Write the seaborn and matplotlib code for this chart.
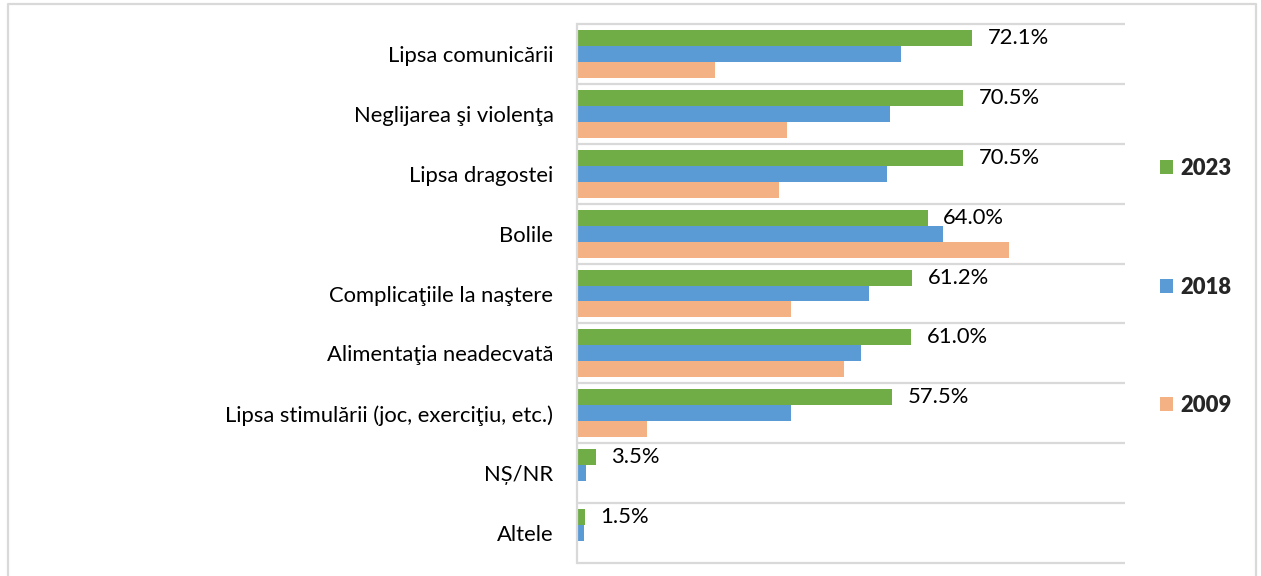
import pandas as pd
import matplotlib.pyplot as plt
import seaborn as sns
from matplotlib.patches import Patch

# Data
categories = [
    "Lipsa comunicării",
    "Neglijarea şi violenţa",
    "Lipsa dragostei",
    "Bolile",
    "Complicaţiile la naştere",
    "Alimentaţia neadecvată",
    "Lipsa stimulării (joc, exerciţiu, etc.)",
    "NȘ/NR",
    "Altele",
]
years = ["2023", "2018", "2009"]
values_2023 = [72.1, 70.5, 70.5, 64.0, 61.2, 61.0, 57.5, 3.5, 1.5]
values_2018 = [59.1, 57.2, 56.6, 66.7, 53.3, 51.9, 39.0, 1.6, 1.2]
values_2009 = [25.1, 38.4, 36.8, 78.9, 39.1, 48.8, 12.7, None, None]
colors = ["#70AD47", "#5B9BD5", "#F4B183"]

df = pd.DataFrame({
    "category": categories * 3,
    "year": [y for y in years for _ in categories],
    "value": values_2023 + values_2018 + values_2009,
})
df["value"] = pd.to_numeric(df["value"])

sns.set_theme(style="white")
plt.rcParams["font.family"] = ["Lato", "DejaVu Sans"]

fig = plt.figure(figsize=(12.61, 5.76), dpi=100)
ax = fig.add_axes([577 / 1261, 13 / 576, 548 / 1261, 539 / 576])

sns.barplot(
    data=df, y="category", x="value", hue="year",
    hue_order=years, palette=colors, saturation=1, orient="h",
    width=0.8, linewidth=0, ax=ax, legend=False,
)

ax.set_xlim(0, 100)
ax.set_ylim(len(categories) - 0.5, -0.5)
ax.set_xlabel("")
ax.set_ylabel("")
ax.set_xticks([])
ax.tick_params(axis="y", length=0, pad=17, labelsize=15.8, labelcolor="#000000")

# boundary lines between categories
ax.hlines([i - 0.5 for i in range(len(categories) + 1)], 0, 100,
          color="#d9d9d9", linewidth=1.6, clip_on=False, zorder=0)

for side in ["top", "right", "bottom"]:
    ax.spines[side].set_visible(False)
ax.spines["left"].set_color("#d9d9d9")
ax.spines["left"].set_linewidth(1.6)

# value labels on the 2023 bars only
ax.bar_label(ax.containers[0], fmt="%.1f%%", padding=11, fontsize=15.8, color="#000000")

# legend on the right
handles = [Patch(facecolor=c, edgecolor="none", label=y) for c, y in zip(colors, years)]
leg = fig.legend(
    handles=handles, loc="center left", bbox_to_anchor=(1140 / 1261, 1 - 287 / 576),
    frameon=False, handlelength=0.6, handleheight=0.6, handletextpad=0.35,
    labelspacing=4.45, prop={"weight": "heavy", "size": 15.8},
)

# outer border (left, top, right)
fig.add_artist(plt.Line2D([8 / 1261, 8 / 1261, 1256 / 1261, 1256 / 1261],
                          [0, 1 - 4 / 576, 1 - 4 / 576, 0],
                          transform=fig.transFigure, color="#d9d9d9", linewidth=1.6))

fig.savefig("out.png", dpi=100)
